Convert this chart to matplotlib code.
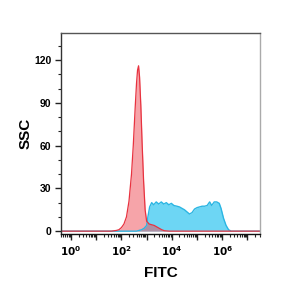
import numpy as np
import matplotlib
matplotlib.use('Agg')
import matplotlib.pyplot as plt
from matplotlib.ticker import FixedLocator, LogLocator, MultipleLocator, NullFormatter

plt.rcParams['font.family'] = ['Liberation Sans', 'DejaVu Sans']

# histogramy (log10 FITC, liczba zdarzen)
red_log = [-0.5, 1.6, 1.8, 1.9, 2.0, 2.1, 2.2, 2.3, 2.4, 2.47, 2.55, 2.6, 2.64, 2.68, 2.72,
           2.77, 2.82, 2.88, 2.94, 3.0, 3.1, 3.2, 3.3, 3.4, 3.5, 3.6, 3.7, 3.9, 7.6]
red_cnt = [0, 0, 0.5, 1, 2.5, 5, 10, 21, 40, 60, 88, 104, 113, 116, 108,
           88, 62, 35, 15, 7, 5, 4.5, 4, 3, 2, 1, 0.3, 0, 0]

blue_log = [-0.5, 2.6, 2.8, 2.9, 3.0, 3.05, 3.12, 3.2, 3.28, 3.38, 3.48, 3.58, 3.68, 3.78,
            3.88, 3.98, 4.08, 4.2, 4.3, 4.4, 4.5, 4.6, 4.7, 4.8, 4.9, 5.0, 5.1, 5.2, 5.3,
            5.4, 5.5, 5.58, 5.68, 5.78, 5.88, 5.95, 6.05, 6.15, 6.25, 6.35, 7.6]
blue_cnt = [0, 0, 1, 2, 4, 10, 17, 20, 18.5, 20.5, 19, 20.5, 19, 20,
            18.5, 19.5, 18, 17.5, 17, 16, 15, 13.5, 12, 13, 15.5, 16.5, 17, 17.5, 17.5,
            18, 20.5, 18, 20.5, 20.5, 19.5, 16, 9, 4, 1, 0, 0]

major_decades = [0, 1, 2, 3, 4, 5, 6, 7]
label_decades = [0, 2, 4, 6]
y_ticks = [0, 30, 60, 90, 120]

fig = plt.figure(figsize=(3, 3), dpi=100)
ax = fig.add_axes([0.203, 0.22, 0.664, 0.67])

bx = 10 ** np.array(blue_log)
rx = 10 ** np.array(red_log)

# niebieski pod spodem, czerwony na wierzchu
ax.fill_between(bx, blue_cnt, color='#6dd6f4', lw=0)
ax.plot(bx, blue_cnt, color='#2bb6e3', lw=1.0)
ax.fill_between(rx, red_cnt, color='#ee4b55', alpha=0.5, lw=0)
ax.plot(rx, red_cnt, color='#e8323f', lw=0.9)

ax.set_xscale('log')
ax.set_xlim(10 ** -0.4, 10 ** 7.5)
ax.set_ylim(-2, 139)

ax.xaxis.set_major_locator(FixedLocator([10.0 ** d for d in major_decades]))
ax.set_xticklabels(['$\\mathbf{10^{%d}}$' % d if d in label_decades else '' for d in major_decades])
ax.xaxis.set_minor_locator(LogLocator(base=10, subs=np.arange(2, 10), numticks=20))
ax.xaxis.set_minor_formatter(NullFormatter())

ax.set_yticks(y_ticks)
ax.yaxis.set_minor_locator(MultipleLocator(10))

ax.tick_params(axis='both', which='major', direction='out', length=4, width=1,
               labelsize=7.5, color='#222222', pad=3)
ax.tick_params(axis='both', which='minor', direction='out', length=2, width=0.8, color='#222222')
for lab in ax.get_yticklabels():
    lab.set_fontweight('bold')

ax.spines['left'].set_color('#333333')
ax.spines['bottom'].set_color('#111111')
ax.spines['top'].set_color('#555555')
ax.spines['right'].set_color('#aaaaaa')
for s in ax.spines.values():
    s.set_linewidth(1.0)

ax.set_xlabel('FITC', fontsize=11, fontweight='bold', labelpad=6)
ax.set_ylabel('SSC', fontsize=11, fontweight='bold', labelpad=1)

fig.savefig('out.png', dpi=100)
